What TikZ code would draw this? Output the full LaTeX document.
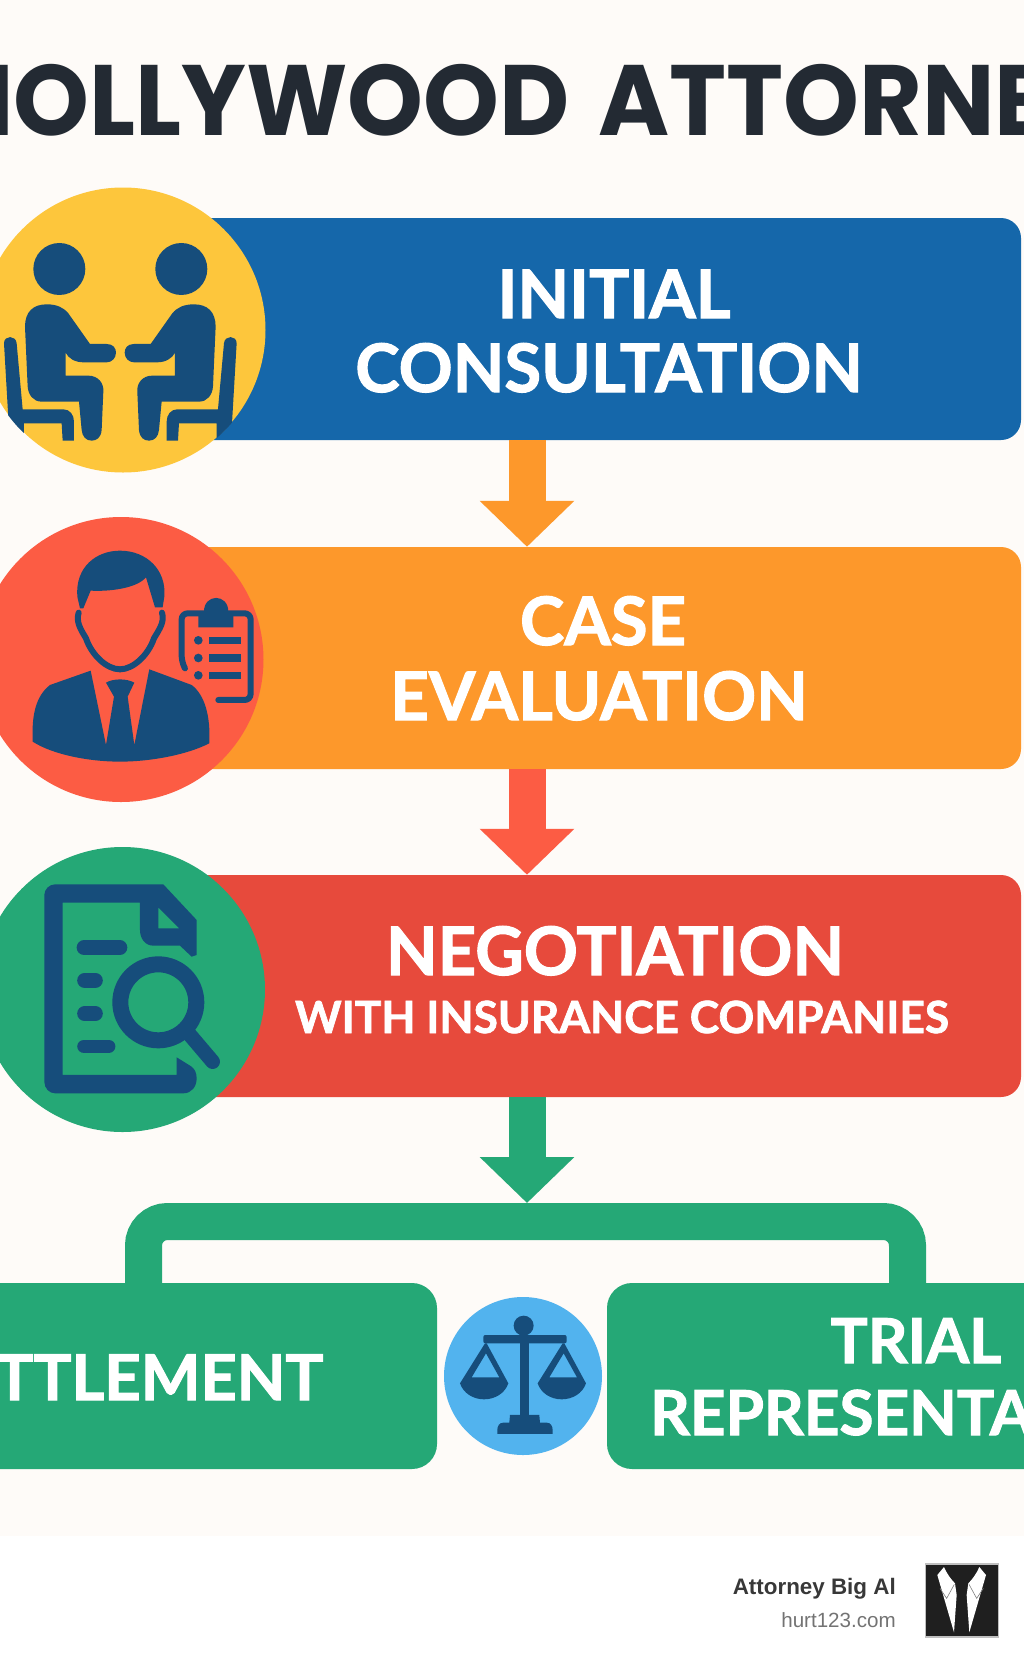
\documentclass[tikz,border=0pt]{standalone}
\usepackage{fontspec}
\usetikzlibrary{arrows.meta}
\setmainfont{Lato}[BoldFeatures={FakeBold=1.6}]
\newfontfamily\titlefont{Poppins}[FakeStretch=0.965, WordSpace=1.4]
\newfontfamily\footfont{Liberation Sans}
\definecolor{pagecream}{HTML}{FEFBF8}
\definecolor{inkdark}{HTML}{232A33}
\definecolor{navy}{HTML}{164D7B}
\definecolor{barblue}{HTML}{1567AA}
\definecolor{barorange}{HTML}{FD982B}
\definecolor{barred}{HTML}{E74A3C}
\definecolor{flowgreen}{HTML}{25A876}
\definecolor{sunyellow}{HTML}{FDC63C}
\definecolor{coral}{HTML}{FC5C44}
\definecolor{skyblue}{HTML}{52B3EE}
\tikzset{
  barbox/.style={rounded corners=20pt, minimum width=841pt, minimum height=222pt, inner sep=0pt},
  endbox/.style={rounded corners=25pt, fill=flowgreen, minimum height=186pt, inner sep=0pt},
  badge/.style={circle, inner sep=0pt, minimum size=285pt},
  bigline/.style={anchor=base, text=white, inner sep=0pt, font=\fontsize{67}{67}\bfseries},
  endline/.style={bigline, font=\fontsize{62}{62}\bfseries},
  flowarrow/.style={line width=37pt, -{Triangle[length=46pt,width=92pt]}},
  iconline/.style={navy, line cap=round, line join=round}
}
\begin{document}
\begin{tikzpicture}[x=1pt, y=-1pt]
\useasboundingbox (0,0) rectangle (1024,1666);
\clip (0,0) rectangle (1024,1666);

\fill [pagecream] (0,0) rectangle (1024,1536);

\node [anchor=base west, inner sep=0pt, text=inkdark, font=\fontsize{100}{100}\titlefont\bfseries] (title) at (-57,135) {HOLLYWOOD ATTORNEY};

\foreach \n/\c/\y in {consult/barblue/329, evaluate/barorange/658, negotiate/barred/986}
  \node [barbox, fill=\c] (\n) at (600.5,\y) {};

\node [endbox, minimum width=497pt] (settle) at (188.5,1376) {};
\node [endbox, minimum width=493pt] (trial) at (853.5,1376) {};

% arrows down the middle
\coordinate (flow) at (527,0);
\coordinate (split) at (527,1203);
\draw [flowarrow, barorange] (consult.south -| flow) -- (evaluate.north -| flow);
\draw [flowarrow, coral] (evaluate.south -| flow) -- (negotiate.north -| flow);
\draw [flowarrow, flowgreen] (negotiate.south -| flow) -- (split);

\coordinate (branch-l) at (143.5,1221.5);
\coordinate (branch-r) at (907.5,1221.5);
\draw [line width=37pt, flowgreen, rounded corners=24pt] (settle.north -| branch-l) -- (branch-l) -- (branch-r) -- (trial.north -| branch-r);

\foreach \n/\c/\x/\y in {meet/sunyellow/123/330, review/coral/121/659.5, inspect/flowgreen/122.5/989.5}
  \node [badge, fill=\c] (\n) at (\x,\y) {};
\node [circle, fill=skyblue, inner sep=0pt, minimum size=158pt] (scales) at (523,1376) {};

% two people at a table
\begin{scope}
\clip (123,330) circle (143);
\begin{scope}[shift={(0,170)}, x=0.3333pt, y=-0.3333pt]
\foreach \m/\s in {0/1, 722/-1} {
  \begin{scope}[shift={(\m,0)}, xscale=\s]
  \fill [navy] (178,297) circle (78);
  \fill [navy] (75,470) .. controls (75,425) and (100,403) .. (140,403)
    .. controls (170,403) and (190,412) .. (205,430) -- (270,522) -- (320,522)
    .. controls (340,522) and (348,535) .. (348,548) .. controls (348,565) and (335,577) .. (320,577)
    -- (250,577) .. controls (225,577) and (205,565) .. (197,548) -- (197,617) -- (265,617)
    .. controls (295,617) and (312,640) .. (310,665) -- (305,780)
    .. controls (303,803) and (290,812) .. (275,812) .. controls (258,812) and (247,800) .. (245,780)
    -- (237,695) -- (125,695) .. controls (100,695) and (85,675) .. (83,650) -- cycle;
  \fill [navy] (12,520) .. controls (12,495) and (48,495) .. (50,520) -- (68,718) -- (190,718)
    .. controls (210,718) and (222,735) .. (222,755) -- (222,812) -- (188,812) -- (185,760)
    -- (72,760) -- (72,830) -- (30,830) -- cycle;
  \end{scope}
}
\end{scope}
\end{scope}

% lawyer with clipboard
\begin{scope}[shift={(0,500)}, x=0.3333pt, y=-0.3333pt]
\fill [navy] (240,325) -- (232,290) .. controls (225,200) and (290,152) .. (360,152)
  .. controls (440,152) and (500,210) .. (493,290) -- (488,322) -- (465,322) -- (438,232)
  .. controls (410,265) and (330,275) .. (272,272) -- (250,325) -- cycle;
\draw [iconline, line width=6pt] (236,338) .. controls (228,365) and (240,385) .. (258,415)
  .. controls (275,465) and (320,508) .. (360,508) .. controls (400,508) and (445,465) .. (462,415)
  .. controls (480,385) and (494,365) .. (486,338);
\fill [navy] (98,725) .. controls (95,650) and (105,590) .. (150,555) -- (272,512) -- (318,735)
  -- (342,590) -- (318,548) .. controls (340,535) and (380,535) .. (403,548) -- (383,590) -- (403,735)
  -- (448,508) -- (575,555) .. controls (615,585) and (632,650) .. (628,730)
  .. controls (560,765) and (450,785) .. (360,785) .. controls (270,785) and (160,765) .. (98,725) -- cycle;
\draw [iconline, line width=6pt, rounded corners=6pt] (655,600) -- (752,600) -- (752,340) -- (545,340) -- (545,485) -- (555,505);
\fill [navy] (595,382) -- (700,382) -- (700,335) -- (685,335) .. controls (685,280) and (612,280) .. (612,335) -- (595,335) -- cycle;
\foreach \y in {421,474,526} {
  \fill [navy] (595,\y) circle (13);
  \fill [navy] (627,\y-11) rectangle (722,\y+11);
}
\end{scope}

% document under a magnifier
\begin{scope}[shift={(0,830)}, x=0.3333pt, y=-0.3333pt]
\fill [navy, even odd rule] (165,163) -- (490,163) -- (590,270) -- (590,375) -- (575,380) -- (540,347) -- (460,347)
  .. controls (435,347) and (420,325) .. (420,300) -- (420,218) -- (188,218) -- (188,735) -- (530,735) -- (530,682) -- (575,710)
  .. controls (585,718) and (590,730) .. (590,745) .. controls (590,770) and (575,790) .. (550,790)
  -- (165,790) .. controls (148,790) and (133,775) .. (133,755) -- (133,195) .. controls (133,178) and (148,163) .. (165,163) -- cycle
  (475,232) -- (475,295) -- (538,295) -- cycle;
\draw [iconline, line width=14.7pt] (252,353) -- (360,353);
\draw [iconline, line width=15pt] (254,451) -- (286,451);
\draw [iconline, line width=15pt] (254,551) -- (286,551);
\draw [iconline, line width=13.5pt] (252,649) -- (326,649);
\draw [iconline, line width=16pt] (475,517) circle (114);
\draw [iconline, line width=14.7pt] (570,615) -- (638,695);
\end{scope}

% scales
\begin{scope}[shift={(400,1180)}, x=0.3333pt, y=-0.3333pt]
\fill [navy] (371,437) circle (30);
\fill [navy, rounded corners=2pt] (250,465) rectangle (500,490);
\fill [navy] (360,480) rectangle (386,710);
\fill [navy] (330,705) -- (418,705) -- (420,728) -- (440,728) .. controls (452,728) and (458,738) .. (458,750)
  -- (458,762) -- (292,762) -- (292,750) .. controls (292,738) and (298,728) .. (310,728) -- (328,728) -- cycle;
\foreach \d in {0,233}
  \fill [navy, even odd rule, shift={(\d,0)}] (255,490) -- (180,610) .. controls (190,640) and (220,658) .. (252,658)
    .. controls (285,658) and (315,640) .. (325,610) -- (260,490) -- cycle
    (258,520) -- (215,592) -- (298,592) -- cycle;
\end{scope}

\foreach \l/\x/\y in {INITIAL/614/318, CONSULTATION/609/392, CASE/603/645, EVALUATION/599/720, NEGOTIATION/615/975}
  \node [bigline] (line-\l) at (\x,\y) {\l};
\foreach \l/\x/\y in {TRIAL/916/1363, REPRESENTATION/916/1435}
  \node [endline] (line-\l) at (\x,\y) {\l};
\node [endline, font=\fontsize{63.2}{63}\bfseries] (line-SETTLEMENT) at (124,1400) {SETTLEMENT};
\node [bigline, font=\fontsize{44.3}{44}\bfseries] (line-with) at (622,1033) {WITH INSURANCE COMPANIES};

% footer
\node [anchor=base east, inner sep=0pt, text=black!78, font=\fontsize{22.4}{23}\footfont\bfseries] (brand) at (896,1594) {Attorney Big Al};
\node [anchor=base east, inner sep=0pt, text=black!55, font=\fontsize{20.6}{21}\footfont] (site) at (896,1627) {hurt123.com};

\node [fill=black!88, draw=black!25, line width=1.5pt, minimum size=73pt, inner sep=0pt] (logo) at (962,1600.5) {};
\begin{scope}[shift={(920,1555)}, x=0.3333pt, y=-0.3333pt]
\foreach \m/\s in {0/1, 250/-1} {
  \begin{scope}[shift={(\m,0)}, xscale=\s]
  \fill [white] (52,60) -- (72,36) .. controls (80,55) and (92,72) .. (105,85) -- (110,120) -- (102,232) -- cycle;
  \draw [black!50, line width=0.6pt] (60,100) -- (80,130) -- (103,88);
  \end{scope}
}
\end{scope}

\end{tikzpicture}
\end{document}
